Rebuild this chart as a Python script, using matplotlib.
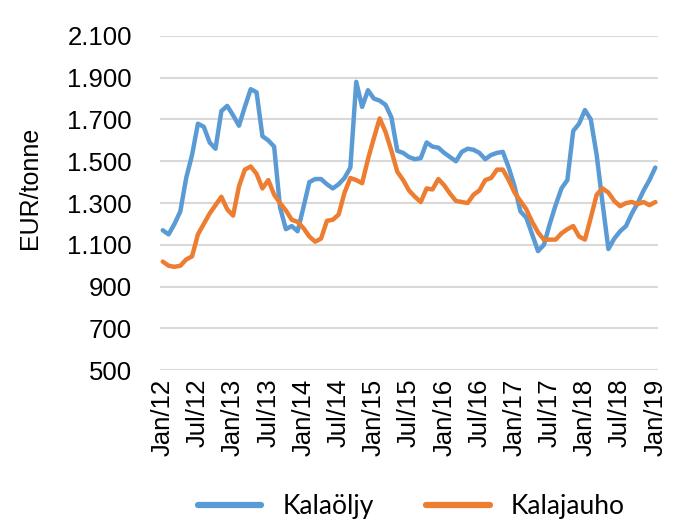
import matplotlib
matplotlib.use("Agg")
import matplotlib.pyplot as plt
from matplotlib.ticker import FuncFormatter

# Monthly prices Jan/12 .. Jan/19 (EUR/tonne)
kalaoljy = [1170, 1150, 1200, 1260, 1420, 1530, 1680, 1665, 1590, 1560,
            1740, 1765, 1720, 1670, 1760, 1845, 1830, 1620, 1600, 1570,
            1280, 1175, 1190, 1165, 1280, 1400, 1415, 1415, 1390, 1370,
            1390, 1420, 1470, 1880, 1760, 1840, 1800, 1790, 1770, 1710,
            1550, 1540, 1520, 1510, 1515, 1590, 1570, 1565, 1540, 1520,
            1500, 1545, 1560, 1555, 1540, 1510, 1530, 1540, 1545, 1470,
            1380, 1260, 1230, 1150, 1070, 1100, 1200, 1290, 1370, 1410,
            1645, 1680, 1745, 1700, 1530, 1300, 1080, 1130, 1165, 1190,
            1250, 1300, 1360, 1410, 1470]
kalajauho = [1020, 1000, 995, 1000, 1030, 1045, 1150, 1200, 1250, 1290,
             1330, 1270, 1240, 1380, 1460, 1475, 1440, 1370, 1410, 1340,
             1300, 1265, 1220, 1210, 1180, 1140, 1115, 1130, 1215, 1220,
             1245, 1350, 1420, 1410, 1395, 1510, 1610, 1705, 1640, 1550,
             1450, 1410, 1360, 1330, 1305, 1370, 1365, 1415, 1385, 1345,
             1310, 1305, 1300, 1340, 1360, 1410, 1420, 1460, 1460, 1410,
             1350, 1310, 1270, 1210, 1160, 1125, 1125, 1125, 1155, 1175,
             1190, 1140, 1125, 1230, 1340, 1370, 1350, 1310, 1285, 1300,
             1305, 1295, 1305, 1290, 1305]
tick_labels = ["Jan/12", "Jul/12", "Jan/13", "Jul/13", "Jan/14", "Jul/14",
               "Jan/15", "Jul/15", "Jan/16", "Jul/16", "Jan/17", "Jul/17",
               "Jan/18", "Jul/18", "Jan/19"]
y_ticks = [500, 700, 900, 1100, 1300, 1500, 1700, 1900, 2100]

BLUE = "#5B9BD5"
ORANGE = "#ED7D31"
AXFONT = ["Liberation Sans", "DejaVu Sans"]
LEGFONT = ["Lato", "DejaVu Sans"]

fig = plt.figure(figsize=(6.8, 5.2), dpi=100)
ax = fig.add_axes([0.235, 0.288, 0.733, 0.643])

x = list(range(len(kalaoljy)))
ax.plot(x, kalaoljy, color=BLUE, lw=3.2, solid_capstyle="round",
        solid_joinstyle="round", label="Kalaöljy", zorder=3)
ax.plot(x, kalajauho, color=ORANGE, lw=3.2, solid_capstyle="round",
        solid_joinstyle="round", label="Kalajauho", zorder=3)

ax.set_xlim(-0.5, len(x) - 0.5)
ax.set_ylim(500, 2100)
ax.set_yticks(y_ticks)
ax.yaxis.set_major_formatter(FuncFormatter(lambda v, p: f"{int(v):,}".replace(",", ".")))
ax.set_xticks(range(0, len(x), 6))
ax.set_xticklabels(tick_labels, rotation=90, fontsize=18.5, family=AXFONT)
for lab in ax.get_yticklabels():
    lab.set_fontsize(18.5)
    lab.set_family(AXFONT)
ax.tick_params(axis="both", length=0, colors="#000000")
ax.tick_params(axis="y", pad=20)
ax.tick_params(axis="x", pad=6)
ax.grid(axis="y", color="#D9D9D9", lw=1.5, zorder=0)
for s in ax.spines.values():
    s.set_visible(False)
ax.set_ylabel("EUR/tonne", fontsize=18, family=AXFONT)
ax.yaxis.set_label_coords(-0.237, 0.545)

leg = fig.legend(loc="center", bbox_to_anchor=(0.605, 0.026), ncol=2, frameon=False,
                 prop={"family": LEGFONT, "size": 19}, handlelength=2.4,
                 handletextpad=0.8, columnspacing=2.0)
for h in leg.get_lines():
    h.set_linewidth(4.5)

fig.savefig("out.png", dpi=100)
